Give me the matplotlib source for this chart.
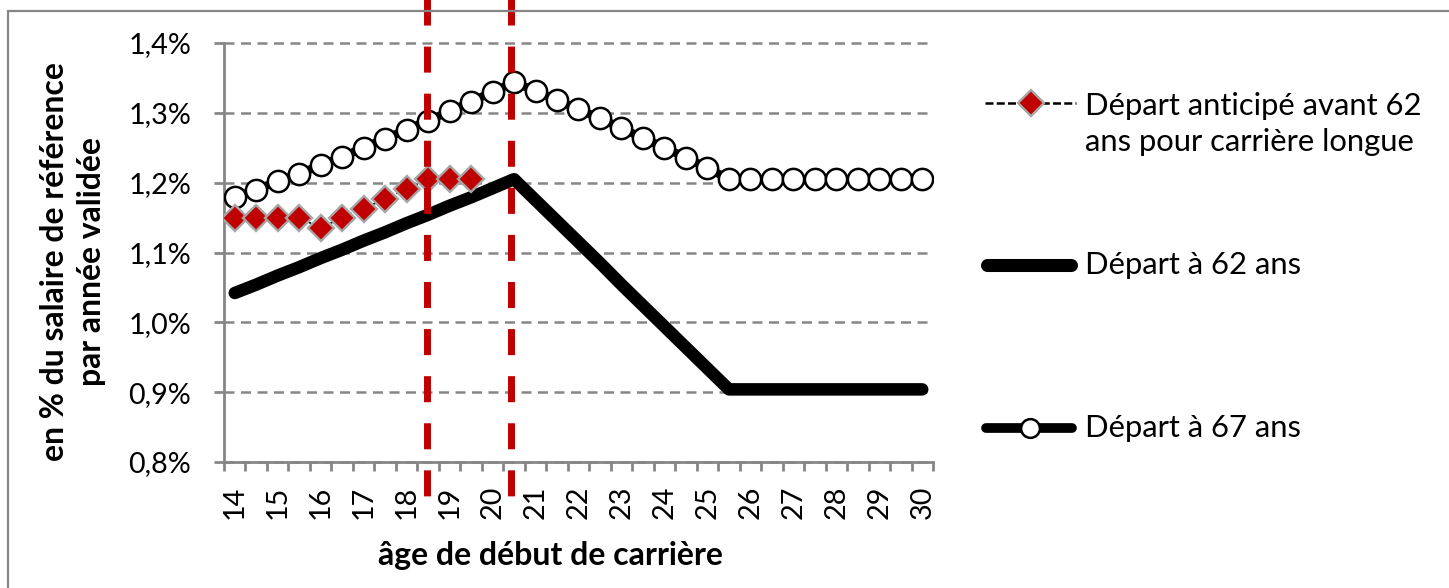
import numpy as np
import matplotlib
matplotlib.use('Agg')
import matplotlib.pyplot as plt
import matplotlib.transforms as mtransforms
from matplotlib.lines import Line2D
from matplotlib.patches import Rectangle

plt.rcParams['font.family'] = ['Lato', 'DejaVu Sans']

# ---------------- data ----------------
ages = [14.0, 14.5, 15.0, 15.5, 16.0, 16.5, 17.0, 17.5, 18.0, 18.5, 19.0, 19.5,
        20.0, 20.5, 21.0, 21.5, 22.0, 22.5, 23.0, 23.5, 24.0, 24.5, 25.0, 25.5,
        26.0, 26.5, 27.0, 27.5, 28.0, 28.5, 29.0, 29.5, 30.0]
age_tick_values = [14, 15, 16, 17, 18, 19, 20, 21, 22, 23, 24, 25, 26, 27, 28, 29, 30]
age_tick_labels = ['14', '15', '16', '17', '18', '19', '20', '21', '22', '23',
                   '24', '25', '26', '27', '28', '29', '30']

depart_62 = [1.042, 1.054, 1.067, 1.079, 1.092, 1.104, 1.117, 1.129, 1.142, 1.154,
             1.167, 1.179, 1.192, 1.205, 1.175, 1.145, 1.115, 1.085, 1.054, 1.024,
             0.994, 0.964, 0.934, 0.904, 0.904, 0.904, 0.904, 0.904, 0.904, 0.904,
             0.904, 0.904, 0.904]
depart_67 = [1.179, 1.190, 1.202, 1.213, 1.225, 1.237, 1.250, 1.263, 1.276, 1.289,
             1.302, 1.316, 1.330, 1.344, 1.331, 1.318, 1.305, 1.292, 1.278, 1.264,
             1.250, 1.236, 1.221, 1.205, 1.205, 1.205, 1.205, 1.205, 1.205, 1.205,
             1.205, 1.205, 1.205]
anticipe_ages = [14.0, 14.5, 15.0, 15.5, 16.0, 16.5, 17.0, 17.5, 18.0, 18.5, 19.0, 19.5]
anticipe = [1.150, 1.150, 1.150, 1.150, 1.135, 1.150, 1.163, 1.177, 1.191, 1.205,
            1.205, 1.205]

y_tick_values = [0.8, 0.9, 1.0, 1.1, 1.2, 1.3, 1.4]
y_tick_labels = ['0,8%', '0,9%', '1,0%', '1,1%', '1,2%', '1,3%', '1,4%']
ref_line_ages = [18.48, 20.43]

label_anticipe = 'Départ anticipé avant 62\nans pour carrière longue'
label_62 = 'Départ à 62 ans'
label_67 = 'Départ à 67 ans'
x_title = 'âge de début de carrière'
y_title = 'en % du salaire de référence\npar année validée'

# ---------------- layout helpers ----------------
W, H = 1449, 588
fig = plt.figure(figsize=(W / 100, H / 100), dpi=100)
fig.patch.set_facecolor('white')

def fx(p):
    return p / W

def fy(p):
    return 1 - p / H

renderer = fig.canvas.get_renderer()

def fit_size(s, target_px, weight='normal'):
    t = fig.text(0, 0, s, fontsize=20, fontweight=weight)
    w = t.get_window_extent(renderer=renderer).width
    t.remove()
    return 20 * target_px / w

fs_legend = fit_size('Départ à 62 ans', 217)
fs_ytick = fit_size('1,4%', 63)
fs_xtitle = fit_size(x_title, 346, 'bold')
fs_ytitle = fit_size('en % du salaire de référence', 400, 'bold')

GRAY = '#868686'
RED = '#C00000'
DIAMOND_EDGE = '#A6A6A6'

# ---------------- axes ----------------
ax_l, ax_r, ax_t, ax_b = 224, 933, 43, 462
ax = fig.add_axes([fx(ax_l), fy(ax_b), (ax_r - ax_l) / W, (ax_b - ax_t) / H])
ax.set_xlim(13.75, 30.25)
ax.set_ylim(0.8, 1.4)

for side in ['top', 'right']:
    ax.spines[side].set_visible(False)
for side in ['left', 'bottom']:
    ax.spines[side].set_color(GRAY)
    ax.spines[side].set_linewidth(2)

ax.set_yticks(y_tick_values)
ax.set_yticklabels(y_tick_labels)
ax.tick_params(axis='y', which='major', length=7.5, width=2, color=GRAY,
               pad=16, labelsize=fs_ytick, labelcolor='black')

ax.set_xticks(age_tick_values)
ax.set_xticklabels(age_tick_labels, rotation=90)
ax.set_xticks(np.arange(13.75, 30.26, 0.5), minor=True)
ax.tick_params(axis='x', which='major', length=0, pad=17, labelsize=fs_ytick)
ax.tick_params(axis='x', which='minor', length=6.5, width=2, color=GRAY)

ax.yaxis.grid(True, color=GRAY, linewidth=1.8, linestyle=(0, (4.0, 2.6)))
ax.set_axisbelow(True)
for gl in ax.get_ygridlines():
    gl.set_clip_on(False)

# series
ax.plot(ages, depart_62, color='black', lw=9, solid_capstyle='round',
        solid_joinstyle='round', zorder=3)
ax.plot(ages, depart_67, color='black', lw=6, marker='o', ms=15.3, mfc='white',
        mec='black', mew=1.8, zorder=4)
ax.plot(anticipe_ages, anticipe, color='black', lw=1.3, ls=(0, (3, 2)),
        marker='D', ms=13.5, mfc=RED, mec=DIAMOND_EDGE, mew=1.7, zorder=5)

# red vertical reference lines (extend outside the plot area)
blend = mtransforms.blended_transform_factory(ax.transData, ax.transAxes)
y_top = (ax_b + 17) / (ax_b - ax_t)
y_bot = (ax_b - 502) / (ax_b - ax_t)
for a in ref_line_ages:
    ax.plot([a, a], [y_top, y_bot], transform=blend, color=RED, lw=5,
            dashes=(3.75, 3.03), dash_capstyle='butt', clip_on=False, zorder=10)

# axis titles
fig.text(fx(550), fy(556), x_title, fontsize=fs_xtitle, fontweight='bold',
         ha='center', va='center')
fig.text(fx(73), fy(262), y_title, fontsize=fs_ytitle, fontweight='bold',
         ha='center', va='center', rotation=90, linespacing=1.3)

# ---------------- legend (drawn manually) ----------------
fig.add_artist(Line2D([fx(985), fx(1076)], [fy(103)] * 2, color='black', lw=1.8,
                      dashes=(3.2, 1.3), transform=fig.transFigure))
fig.add_artist(Line2D([fx(1030.7)], [fy(103)], marker='D', ms=13.5, mfc=RED,
                      mec=DIAMOND_EDGE, mew=1.7, transform=fig.transFigure))
fig.text(fx(1085), fy(124), label_anticipe, fontsize=fs_legend, ha='left',
         va='center', linespacing=1.38)

fig.add_artist(Line2D([fx(987), fx(1071)], [fy(265)] * 2, color='black', lw=9.4,
                      solid_capstyle='round', transform=fig.transFigure))
fig.text(fx(1085), fy(265), label_62, fontsize=fs_legend, ha='left', va='center')

fig.add_artist(Line2D([fx(986), fx(1072)], [fy(428)] * 2, color='black', lw=7,
                      solid_capstyle='round', transform=fig.transFigure))
fig.add_artist(Line2D([fx(1030)], [fy(428)], marker='o', ms=13.5, mfc='white',
                      mec='black', mew=1.8, transform=fig.transFigure))
fig.text(fx(1085), fy(428), label_67, fontsize=fs_legend, ha='left', va='center')

# chart border (cropped on right/bottom)
fig.add_artist(Rectangle((fx(8), fy(620)), fx(1480) - fx(8), fy(11) - fy(620),
                         fill=False, edgecolor=GRAY, lw=1.6,
                         transform=fig.transFigure))

fig.savefig('out.png', dpi=100)
